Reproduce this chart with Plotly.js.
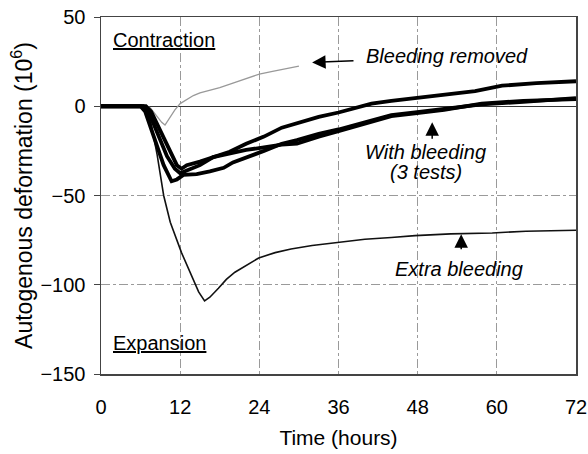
<!DOCTYPE html>
<html>
<head>
<meta charset="utf-8">
<script src="https://cdn.plot.ly/plotly-3.0.1.min.js"></script>
<style>
  html, body { margin: 0; padding: 0; background: #fff; }
  #graph { width: 588px; height: 454px; }
</style>
</head>
<body>
<div id="graph"></div>
<script>
// Bleeding removed (thin gray)
const removedTime = [0, 7, 7.5, 8.3, 9.2, 9.7, 10.5, 11.2, 12, 13, 14, 15, 16.5, 18, 20, 22, 24, 26, 28, 30];
const removedDef = [0, 0, -1, -5, -9, -10.5, -6, -2, 1.5, 4, 6, 7.5, 9, 10.5, 13, 15.5, 18, 19.5, 21, 22.5];

// With bleeding, 3 tests (thick black)
const testATime = [0, 6.8, 7.6, 9, 10.5, 11.5, 12.2, 13, 15, 17, 19.5, 22, 24.7, 27.4, 29.7, 33, 36, 39, 41, 44, 47.6, 52, 56.7, 60.8, 66, 72];
const testADef = [0, 0, -3, -14, -26, -33, -35, -33, -31, -28.5, -25.5, -21, -17, -12, -9.5, -6, -3.5, -0.5, 1.5, 3, 4.5, 6.5, 8.5, 11.5, 13, 14];

const testBTime = [0, 6, 6.7, 8, 9.5, 10.7, 11.5, 12.5, 14.5, 16.5, 18.6, 20, 22, 24.7, 27.4, 29.7, 33, 36, 40, 44, 47.6, 52, 57.7, 64, 72];
const testBDef = [0, 0, -3, -17, -33, -42, -41, -38.5, -38, -36.5, -34.5, -31.5, -28.5, -25, -21, -19, -15.5, -13, -9, -5, -3.5, -1.5, 1, 2.5, 4.5];

const testCTime = [0, 6.4, 7.2, 8.5, 10, 11.2, 12, 13, 15, 17, 20, 22, 24.7, 27.4, 29.7, 33, 36, 40, 44, 47.6, 52, 57.7, 64, 72];
const testCDef = [0, 0, -3, -15, -28, -35, -37.5, -36, -33, -28.5, -26, -24.5, -23, -21.5, -21, -17, -14, -10, -5.5, -4, -2, 1.5, 3, 4];

// Extra bleeding (thin black)
const extraTime = [0, 6.5, 7.5, 8.5, 9.5, 10.5, 12.2, 13.5, 14.8, 15.7, 16.5, 17.8, 19, 20.3, 22, 23.9, 26.4, 28.8, 32, 36.1, 40, 44, 47.6, 53, 59.3, 64.4, 72];
const extraDef = [0, 0, -8, -27, -50, -65, -82, -93, -104, -109, -107, -102, -97, -93, -89, -85, -82, -80, -78, -76, -74.5, -73.5, -72.5, -71.5, -71, -70, -69.5];

const font = 'Liberation Sans, Arial, sans-serif';

const traces = [
    { x: removedTime, y: removedDef, mode: 'lines', line: { color: '#999', width: 1.3 } },
    { x: extraTime, y: extraDef, mode: 'lines', line: { color: '#111', width: 1.6 } },
    { x: testBTime, y: testBDef, mode: 'lines', line: { color: '#000', width: 3.8 } },
    { x: testCTime, y: testCDef, mode: 'lines', line: { color: '#000', width: 3.8 } },
    { x: testATime, y: testADef, mode: 'lines', line: { color: '#000', width: 3.8 } }
];

function arrow(x, y, ax, ay) {
    return {
        x: x, y: y, ax: ax, ay: ay, xref: 'x', yref: 'y', axref: 'x', ayref: 'y',
        text: '', showarrow: true, arrowhead: 2, arrowsize: 1.8, arrowwidth: 1.5, arrowcolor: '#000'
    };
}

function label(x, y, text) {
    return {
        x: x, y: y, xref: 'x', yref: 'y', text: text, showarrow: false,
        font: { family: font, size: 20, color: '#000' }
    };
}

const layout = {
    width: 588,
    height: 454,
    margin: { l: 101, r: 12, t: 17, b: 80 },
    paper_bgcolor: '#fff',
    plot_bgcolor: '#fff',
    showlegend: false,
    font: { family: font, size: 20, color: '#000' },
    xaxis: {
        range: [0, 72],
        tickvals: [0, 12, 24, 36, 48, 60, 72],
        ticks: '',
        ticklabelstandoff: 14,
        showgrid: true,
        gridcolor: '#9a9a9a',
        griddash: 'dashdot',
        gridwidth: 1,
        zeroline: false,
        showline: true,
        linecolor: '#444',
        linewidth: 1.5,
        mirror: true,
        title: { text: 'Time (hours)', font: { size: 21 }, standoff: 14 }
    },
    yaxis: {
        range: [-150, 50],
        tickvals: [-150, -100, -50, 0, 50],
        ticks: 'outside',
        ticklen: 6,
        tickcolor: '#444',
        ticklabelstandoff: 4,
        showgrid: true,
        gridcolor: '#9a9a9a',
        griddash: 'dashdot',
        gridwidth: 1,
        zeroline: true,
        zerolinecolor: '#333',
        zerolinewidth: 1,
        showline: true,
        linecolor: '#444',
        linewidth: 1.5,
        mirror: true,
        title: { text: 'Autogenous deformation (10<sup>6</sup>)', font: { size: 23 }, standoff: 1 }
    },
    annotations: [
        label(9.5, 37, '<u>Contraction</u>'),
        label(8.9, -132.5, '<u>Expansion</u>'),
        label(52.5, 28.3, '<i>Bleeding removed</i>'),
        arrow(32, 24.5, 38.5, 25.5),
        label(49.2, -25.5, '<i>With bleeding</i>'),
        label(49.2, -37, '<i>(3 tests)</i>'),
        arrow(50.2, -9, 50.2, -19),
        label(54.3, -91, '<i>Extra bleeding</i>'),
        arrow(54.6, -71.7, 54.6, -81)
    ]
};

Plotly.newPlot('graph', traces, layout, { displayModeBar: false, staticPlot: true });
</script>
</body>
</html>
